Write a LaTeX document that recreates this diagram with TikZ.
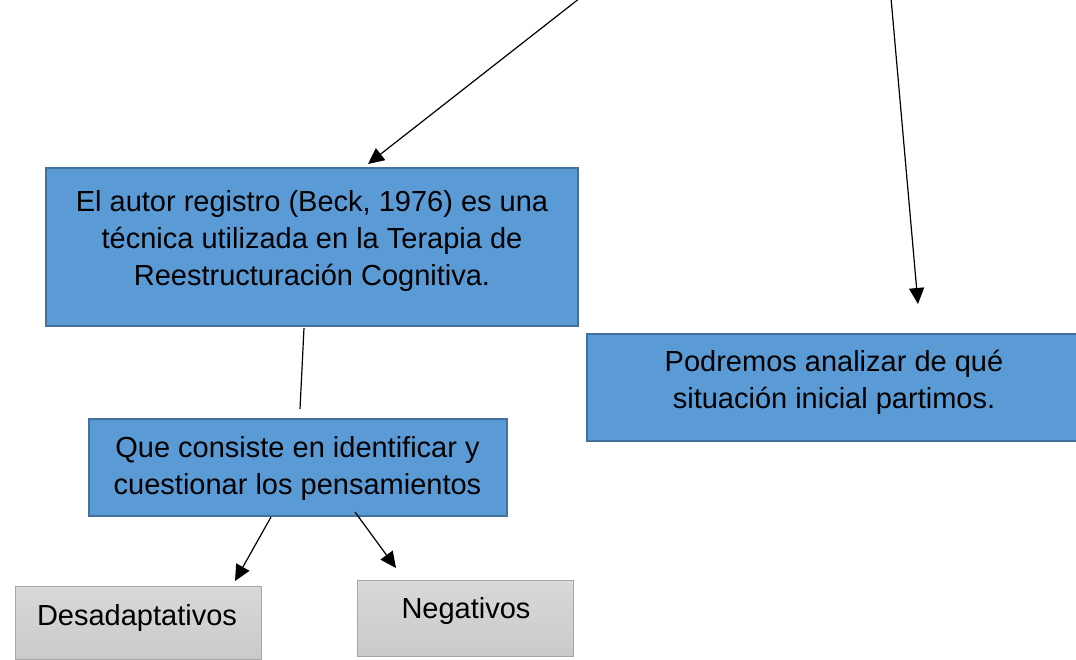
\documentclass[tikz,border=0pt]{standalone}
\usepackage{fontspec}
\setmainfont{Liberation Sans}
\usetikzlibrary{arrows.meta}
\definecolor{boxblue}{HTML}{5B9BD5}
\definecolor{boxblueline}{HTML}{41719C}
\definecolor{greytop}{HTML}{D8D8D8}
\definecolor{greybot}{HTML}{CACACA}
\definecolor{greyline}{HTML}{A6A6A6}
\begin{document}
\begin{tikzpicture}[x=1pt,y=-1pt,
  bluebox/.style={draw=boxblueline, fill=boxblue, line width=1.6pt, inner sep=0pt, anchor=north west},
  greybox/.style={draw=greyline, top color=greytop, bottom color=greybot, line width=1.2pt, inner sep=0pt, anchor=north west},
  txt/.style={align=center, inner sep=0pt, font=\fontsize{29}{37}\selectfont},
  arr/.style={draw=black, line width=1.2pt, -{Triangle[length=16pt,width=15pt]}},
  conn/.style={draw=black, line width=1.2pt}]
\useasboundingbox (0,0) rectangle (1076,660);
% boxes
\node[bluebox, minimum width=532, minimum height=158] (b1) at (45,167) {};
\node[bluebox, minimum width=520, minimum height=107] (b2) at (586,333) {};
\node[bluebox, minimum width=418, minimum height=97] (b3) at (88,418) {};
\node[greybox, minimum width=246, minimum height=73] (b4) at (15,586) {};
\node[greybox, minimum width=216, minimum height=76] (b5) at (357,580) {};
% texts
\node[txt] (t1) at (312,241.5) {El autor registro (Beck, 1976) es una\\técnica utilizada en la Terapia de\\Reestructuración Cognitiva.};
\node[txt] (t2) at (834,382.5) {Podremos analizar de qué\\situación inicial partimos.};
\node[txt] (t3) at (297.5,468) {Que consiste en identificar y\\cuestionar los pensamientos};
\node[txt] (t4) at (137,617.5) {Desadaptativos};
\node[txt] (t5) at (466,610.5) {Negativos};
% connector ends
\coordinate (s1) at (580,-2);
\coordinate (e1) at (368,164);
\coordinate (s2) at (891,-2);
\coordinate (e2) at (918,304);
\coordinate (s3) at (304,328);
\coordinate (e3) at (300,409);
\coordinate (s4) at (271,517);
\coordinate (e4) at (235,581);
\coordinate (s5) at (355,512);
\coordinate (e5) at (396,568);
\draw[arr] (s1) -- (e1);
\draw[arr] (s2) -- (e2);
\draw[conn] (s3) -- (e3);
\draw[arr] (s4) -- (e4);
\draw[arr] (s5) -- (e5);
\end{tikzpicture}
\end{document}
